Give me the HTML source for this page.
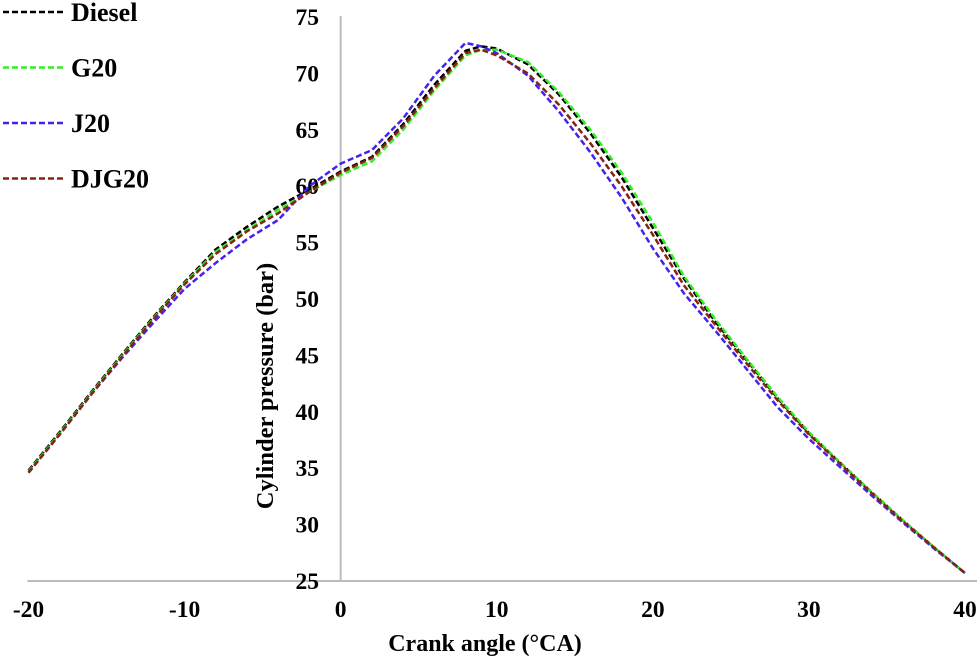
<!DOCTYPE html>
<html><head><meta charset="utf-8"><style>
body{margin:0;background:#fff}
svg{display:block;font-family:"Liberation Serif",serif;font-weight:bold}
</style></head><body>
<svg id="chart" width="979" height="659">
<g id="axes"></g><g id="series"></g><g id="legend"></g>
<text x="485" y="651" font-size="24" text-anchor="middle">Crank angle (°CA)</text>
<text transform="translate(273,386) rotate(-90)" font-size="24.5" text-anchor="middle">Cylinder pressure (bar)</text>
</svg>
<script>
const crankAngles=[-20,-18,-16,-14,-12,-10,-8,-6,-4,-2,0,2,4,6,8,9,10,12,14,16,18,20,22,24,26,28,30,32,34,36,38,40];
const diesel=[34.8,38.2,41.7,45.1,48.4,51.5,54.4,56.4,58.2,59.7,61.3,62.6,65.5,69.0,72.0,72.4,72.2,70.8,68.1,64.7,60.8,56.3,51.8,48.0,44.6,41.2,38.1,35.5,32.9,30.4,28.0,25.7];
const g20=[34.7,38.1,41.6,45.0,48.3,51.4,54.2,56.1,57.9,59.5,61.0,62.2,65.0,68.5,71.6,72.1,72.1,71.0,68.3,65.0,61.2,56.8,52.0,48.2,44.7,41.3,38.2,35.5,32.9,30.4,28.0,25.7];
const j20=[34.6,38.0,41.5,44.8,47.9,50.9,53.2,55.3,57.0,60.0,62.0,63.2,66.0,69.8,72.7,72.4,71.8,69.8,66.6,63.0,59.0,54.5,50.5,47.2,43.8,40.4,37.6,35.1,32.6,30.2,27.9,25.7];
const djg20=[34.6,38.0,41.5,44.9,48.2,51.3,54.0,56.0,57.6,59.5,61.2,62.5,65.3,68.7,71.8,72.1,71.6,70.0,67.2,63.8,60.0,55.7,51.2,47.7,44.3,41.0,38.0,35.4,32.8,30.3,28.0,25.7];
const xTicks=[-20,-10,0,10,20,30,40];
const yTicks=[25,30,35,40,45,50,55,60,65,70,75];
const seriesNames=["Diesel","G20","J20","DJG20"];
const seriesColors=["#000000","#33ee22","#4422ee","#882211"];
const NS="http://www.w3.org/2000/svg";
function xs(v){return 28.5+(v+20)*(965-28.5)/60;}
function ys(v){return 581-(v-25)*(581-17)/50;}
function mk(tag,attrs,parent){const e=document.createElementNS(NS,tag);for(const k in attrs)e.setAttribute(k,attrs[k]);parent.appendChild(e);return e;}
const axes=document.getElementById('axes');
let xl=mk('line',{x1:xs(-20)-1,x2:xs(40)+12,y1:ys(25),y2:ys(25),stroke:'#b8bcbe','stroke-width':2},axes);


let yl=mk('line',{x1:xs(0),x2:xs(0),y1:ys(75)-1,y2:ys(25),stroke:'#b8bcbe','stroke-width':2},axes);


xTicks.forEach(t=>{const e=mk('text',{x:xs(t),y:617,'font-size':23.5,'text-anchor':'middle'},axes);e.textContent=t;

});
yTicks.forEach(t=>{const e=mk('text',{x:319,y:ys(t)+8,'font-size':23.5,'text-anchor':'end'},axes);e.textContent=t;

});
const series=document.getElementById('series');
[diesel,g20,j20,djg20].forEach((d,i)=>{
 const pts=d.map((v,k)=>xs(crankAngles[k]).toFixed(1)+','+ys(v).toFixed(1)).join(' ');
 const p=mk('polyline',{points:pts,fill:'none',stroke:seriesColors[i],'stroke-width':2.5,'stroke-dasharray':'6 3','stroke-linejoin':'round'},series);
 
 
});
const legend=document.getElementById('legend');
seriesNames.forEach((n,i)=>{const y=12+i*55.5;
 const g=mk('g',{},legend);
 
 
 mk('line',{x1:3,x2:64,y1:y,y2:y,stroke:seriesColors[i],'stroke-width':2.5,'stroke-dasharray':'6 3'},g);
 const t=mk('text',{x:71,y:y+9,'font-size':26},g);t.textContent=n;});
</script>
</body></html>
